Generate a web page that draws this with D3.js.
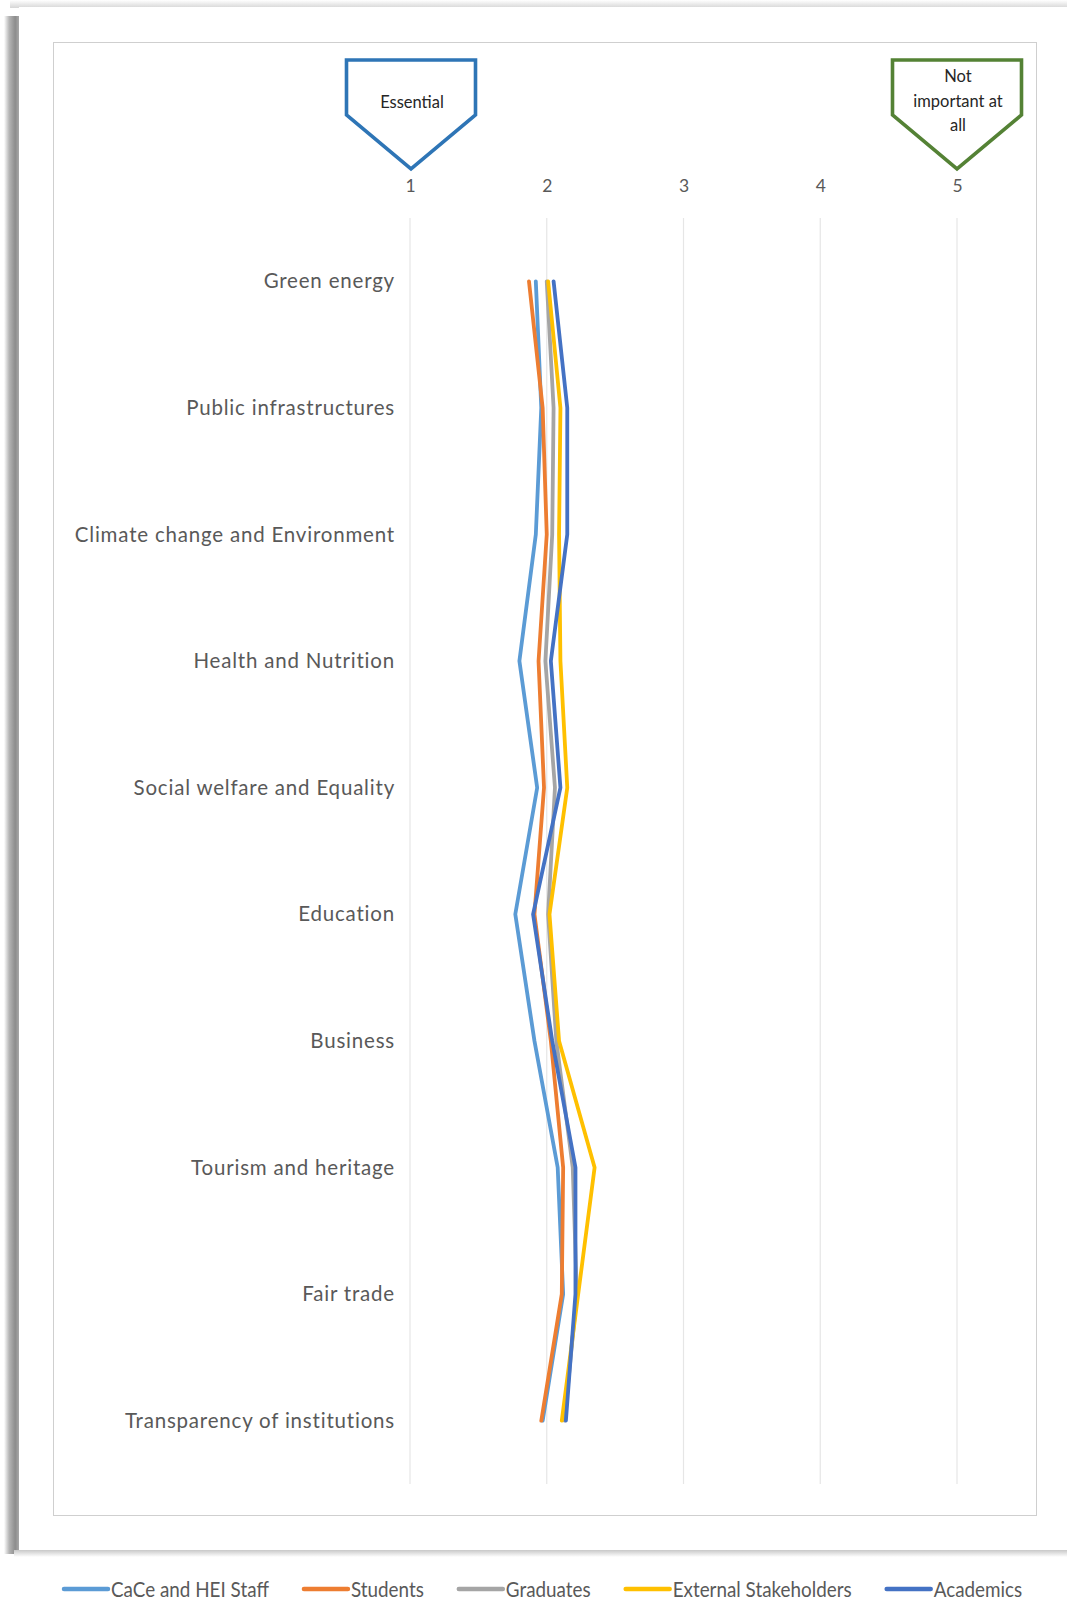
<!DOCTYPE html>
<html>
<head>
<meta charset="utf-8">
<script src="https://cdn.jsdelivr.net/npm/d3@7"></script>
<style>
  html, body { margin: 0; padding: 0; background: #ffffff; }
  svg { display: block; }
  text { font-family: Lato, "Open Sans", sans-serif; }
</style>
</head>
<body>
<svg id="chart" width="1067" height="1602"></svg>
<script>
// Sectors rated on a 1 (Essential) .. 5 (Not important at all) scale
const categories = [
  "Green energy",
  "Public infrastructures",
  "Climate change and Environment",
  "Health and Nutrition",
  "Social welfare and Equality",
  "Education",
  "Business",
  "Tourism and heritage",
  "Fair trade",
  "Transparency of institutions"
];

const seriesNames = ["CaCe and HEI Staff", "Students", "Graduates", "External Stakeholders", "Academics"];

const staffValues       = [1.92, 1.96, 1.92, 1.80, 1.93, 1.77, 1.91, 2.08, 2.12, 1.97];
const studentValues     = [1.87, 1.97, 2.00, 1.94, 1.98, 1.91, 2.03, 2.12, 2.11, 1.96];
const graduateValues    = [2.00, 2.05, 2.04, 1.99, 2.06, 2.01, 2.07, 2.19, 2.22, 2.13];
const externalValues    = [2.01, 2.10, 2.09, 2.10, 2.15, 2.02, 2.09, 2.35, 2.23, 2.11];
const academicValues    = [2.05, 2.15, 2.15, 2.03, 2.10, 1.90, 2.04, 2.21, 2.21, 2.14];

const scaleTicks = [1, 2, 3, 4, 5];
const lowLabel = ["Essential"];
const highLabel = ["Not", "important at", "all"];

const seriesColors = ["#5B9BD5", "#ED7D31", "#A5A5A5", "#FFC000", "#4472C4"];
const seriesValues = [staffValues, studentValues, graduateValues, externalValues, academicValues];

const svg = d3.select("#chart");

// ---- page sheet with its shadow ----
const defs = svg.append("defs");
const lg = defs.append("linearGradient").attr("id", "leftShade").attr("x1", 0).attr("x2", 1);
lg.append("stop").attr("offset", "0%").attr("stop-color", "#ffffff");
lg.append("stop").attr("offset", "35%").attr("stop-color", "#b4b4b4");
lg.append("stop").attr("offset", "75%").attr("stop-color", "#8c8c8c");
lg.append("stop").attr("offset", "100%").attr("stop-color", "#a8a8a8");
const tg = defs.append("linearGradient").attr("id", "topShade").attr("x1", 0).attr("x2", 0).attr("y1", 0).attr("y2", 1);
tg.append("stop").attr("offset", "0%").attr("stop-color", "#ffffff");
tg.append("stop").attr("offset", "100%").attr("stop-color", "#d6d6d6");
const bg = defs.append("linearGradient").attr("id", "bottomShade").attr("x1", 0).attr("x2", 0).attr("y1", 0).attr("y2", 1);
bg.append("stop").attr("offset", "0%").attr("stop-color", "#c8c8c8");
bg.append("stop").attr("offset", "100%").attr("stop-color", "#ffffff");

svg.append("rect").attr("x", 10).attr("y", 0).attr("width", 1057).attr("height", 8).attr("fill", "url(#topShade)");
svg.append("rect").attr("x", 4).attr("y", 16).attr("width", 15).attr("height", 1538).attr("fill", "url(#leftShade)");
svg.append("rect").attr("x", 14).attr("y", 1550).attr("width", 1053).attr("height", 7).attr("fill", "url(#bottomShade)");
svg.append("rect").attr("x", 19).attr("y", 7).attr("width", 1060).attr("height", 1543).attr("fill", "#ffffff");

// ---- plot frame ----
svg.append("rect")
  .attr("x", 53.5).attr("y", 42.5).attr("width", 983).attr("height", 1473)
  .attr("fill", "none").attr("stroke", "#cfcfcf").attr("stroke-width", 1);

// ---- scales ----
const x = d3.scaleLinear().domain([1, 5]).range([410, 957]);
const y = d3.scalePoint().domain(categories).range([218, 1484]).padding(0.5);
const gridTop = 218, gridBottom = 1484;

// vertical gridlines
svg.append("g").selectAll("line")
  .data(scaleTicks)
  .join("line")
  .attr("x1", d => x(d)).attr("x2", d => x(d))
  .attr("y1", gridTop).attr("y2", gridBottom)
  .attr("stroke", "#e6e6e6").attr("stroke-width", 1.2);

// value axis on top
const xAxis = svg.append("g")
  .attr("transform", "translate(0,194)")
  .call(d3.axisTop(x).tickValues(scaleTicks).tickFormat(d3.format("d")).tickSize(0).tickPadding(2));
xAxis.select(".domain").remove();
xAxis.selectAll("text")
  .style("font-family", "Lato, sans-serif")
  .style("font-size", "17.5px")
  .attr("fill", "#595959");

// category axis on the left
const yAxis = svg.append("g")
  .attr("transform", "translate(395,0)")
  .call(d3.axisLeft(y).tickSize(0).tickPadding(0));
yAxis.select(".domain").remove();
yAxis.selectAll("text")
  .style("font-family", "Lato, sans-serif")
  .style("font-size", "20.5px")
  .style("letter-spacing", "0.8px")
  .attr("fill", "#595959");

// ---- series lines ----
const line = d3.line()
  .x(d => x(d.v))
  .y(d => y(d.c));

svg.append("g").selectAll("path")
  .data(seriesValues.map((vals, i) => ({
    name: seriesNames[i],
    color: seriesColors[i],
    points: vals.map((v, j) => ({ c: categories[j], v }))
  })))
  .join("path")
  .attr("d", d => line(d.points))
  .attr("fill", "none")
  .attr("stroke", d => d.color)
  .attr("stroke-width", 3.8)
  .attr("stroke-linejoin", "round")
  .attr("stroke-linecap", "round");

// ---- pentagon callouts marking the scale ends ----
function callout(cx, color, lines, lineYs) {
  const halfW = 64.5, top = 60, shoulder = 115, tip = 169;
  const pts = [[cx - halfW, top], [cx + halfW, top], [cx + halfW, shoulder], [cx, tip], [cx - halfW, shoulder]];
  svg.append("polygon")
    .attr("points", pts.map(p => p.join(",")).join(" "))
    .attr("fill", "#ffffff")
    .attr("stroke", color)
    .attr("stroke-width", 3.6)
    .attr("stroke-linejoin", "miter");
  svg.append("g").selectAll("text")
    .data(lines)
    .join("text")
    .attr("x", cx + 1)
    .attr("y", (d, i) => lineYs[i])
    .attr("text-anchor", "middle")
    .style("font-size", "16.5px")
    .attr("fill", "#262626")
    .text(d => d);
}
callout(x(1) + 1, "#2E75B6", lowLabel, [108]);
callout(x(5), "#548235", highLabel, [82, 107, 131]);

// ---- legend ----
const legend = svg.append("g").attr("transform", "translate(62,1589)");
const textScale = 0.92;
let cursor = 0;
seriesNames.forEach((name, i) => {
  const item = legend.append("g").attr("transform", `translate(${cursor},0)`);
  item.append("line")
    .attr("x1", 2).attr("x2", 46).attr("y1", 0).attr("y2", 0)
    .attr("stroke", seriesColors[i]).attr("stroke-width", 4.5).attr("stroke-linecap", "round");
  const t = item.append("text")
    .attr("x", 0).attr("y", 0)
    .attr("transform", `translate(49,7.5) scale(${textScale},1)`)
    .style("font-size", "20.5px")
    .attr("fill", "#595959")
    .text(name);
  const w = t.node().getComputedTextLength() * textScale;
  cursor += 49 + w + 33;
});
</script>
</body>
</html>
